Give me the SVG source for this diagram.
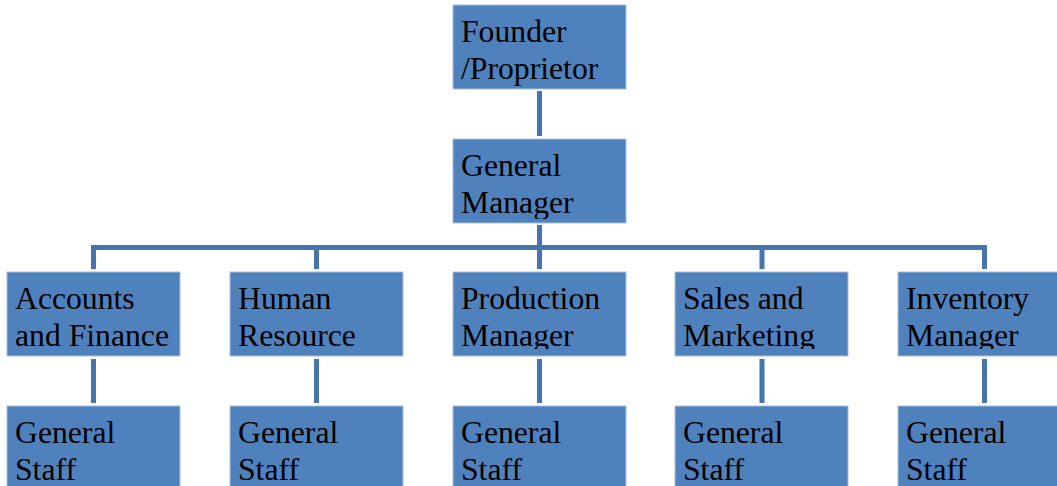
<svg xmlns="http://www.w3.org/2000/svg" width="1057" height="486" viewBox="0 0 1057 486">
<style>
.box{fill:#4F81BD;stroke:#A9BEDB;stroke-width:1}
.t{font-family:"Liberation Serif","Times New Roman",serif;font-size:31.7px;fill:#000}
.c{fill:none;stroke:#4674AE;stroke-width:5;stroke-linejoin:miter;stroke-linecap:butt}
</style>
<defs>
<clipPath id="c0"><rect x="453" y="5" width="173" height="84"/></clipPath>
<clipPath id="c1"><rect x="453" y="139" width="173" height="80"/></clipPath>
<clipPath id="r1"><rect x="0" y="272" width="1057" height="77"/></clipPath>
</defs>
<rect width="1057" height="486" fill="#fff"/>
<g id="connectors">
<path class="c" d="M539.5 91V136"/>
<path class="c" d="M539.5 225V269"/>
<path class="c" d="M93.5 269V247.5H984.5V269"/>
<path class="c" d="M316.5 247.5V269M762 247.5V269"/>
<path class="c" d="M93.5 359V403M316.5 359V403M539.5 359V403M762 359V403M984.5 359V403"/>
</g>
<g id="founder">
<rect class="box" x="453" y="5" width="173" height="84"/>
<text class="t" clip-path="url(#c0)"><tspan x="461" y="42">Founder</tspan><tspan x="461" y="79">/Proprietor</tspan></text>
</g>
<g id="general-manager">
<rect class="box" x="453" y="139" width="173" height="84"/>
<text class="t" clip-path="url(#c1)"><tspan x="461" y="176">General</tspan><tspan x="461" y="213">Manager</tspan></text>
</g>
<g id="accounts">
<rect class="box" x="7" y="272" width="173" height="84"/>
<text class="t" clip-path="url(#r1)"><tspan x="15" y="309">Accounts</tspan><tspan x="15" y="346">and Finance</tspan></text>
</g>
<g id="hr">
<rect class="box" x="230" y="272" width="173" height="84"/>
<text class="t" clip-path="url(#r1)"><tspan x="238" y="309">Human</tspan><tspan x="238" y="346">Resource</tspan></text>
</g>
<g id="production">
<rect class="box" x="453" y="272" width="173" height="84"/>
<text class="t" clip-path="url(#r1)"><tspan x="461" y="309">Production</tspan><tspan x="461" y="346">Manager</tspan></text>
</g>
<g id="sales">
<rect class="box" x="675" y="272" width="173" height="84"/>
<text class="t" clip-path="url(#r1)"><tspan x="683" y="309">Sales and</tspan><tspan x="683" y="346">Marketing</tspan></text>
</g>
<g id="inventory">
<rect class="box" x="898" y="272" width="173" height="84"/>
<text class="t" clip-path="url(#r1)"><tspan x="906" y="309">Inventory</tspan><tspan x="906" y="346">Manager</tspan></text>
</g>
<g id="staff1">
<rect class="box" x="7" y="406" width="173" height="90"/>
<text class="t"><tspan x="15" y="443">General</tspan><tspan x="15" y="480">Staff</tspan></text>
</g>
<g id="staff2">
<rect class="box" x="230" y="406" width="173" height="90"/>
<text class="t"><tspan x="238" y="443">General</tspan><tspan x="238" y="480">Staff</tspan></text>
</g>
<g id="staff3">
<rect class="box" x="453" y="406" width="173" height="90"/>
<text class="t"><tspan x="461" y="443">General</tspan><tspan x="461" y="480">Staff</tspan></text>
</g>
<g id="staff4">
<rect class="box" x="675" y="406" width="173" height="90"/>
<text class="t"><tspan x="683" y="443">General</tspan><tspan x="683" y="480">Staff</tspan></text>
</g>
<g id="staff5">
<rect class="box" x="898" y="406" width="173" height="90"/>
<text class="t"><tspan x="906" y="443">General</tspan><tspan x="906" y="480">Staff</tspan></text>
</g>
</svg>
